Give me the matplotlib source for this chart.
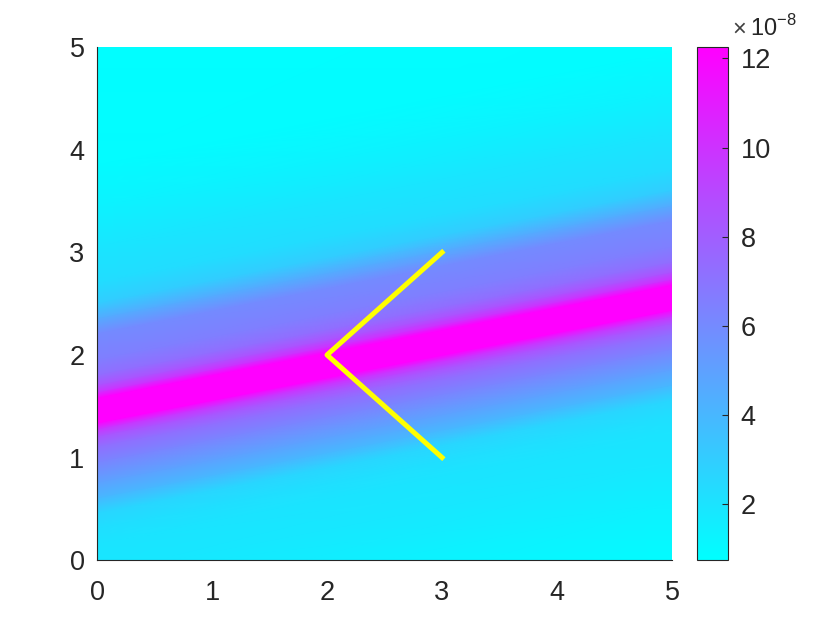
import numpy as np
import matplotlib
matplotlib.use("Agg")
import matplotlib.pyplot as plt

plt.rcParams['font.family'] = ['Liberation Sans', 'DejaVu Sans']
plt.rcParams['mathtext.fontset'] = 'custom'
plt.rcParams['mathtext.rm'] = 'Liberation Sans'

# Band centre line: y = band_y0 + band_slope * x
band_y0 = 1.46
band_slope = 0.22

# Field value (x1e-8) against vertical offset from the band centre
offsets = [-3.8, -2.6, -2.0, -1.6, -1.3, -1.15, -1.0, -0.85, -0.7, -0.5, -0.35, -0.25, -0.18, -0.12, 0.0,
           0.12, 0.18, 0.25, 0.35, 0.5, 0.75, 0.9, 1.05, 1.25, 1.6, 2.0, 2.4, 3.8]
levels = [0.75, 0.85, 1.4, 1.8, 2.0, 2.2, 2.6, 4.0, 5.0, 6.3, 7.3, 8.5, 10.0, 12.3, 14.0,
          12.3, 10.0, 8.5, 7.3, 6.5, 6.0, 4.5, 3.0, 2.3, 1.9, 1.3, 0.9, 0.75]

# Yellow path
path_x = [3, 2, 3]
path_y = [3, 2, 1]

cbar_ticks = [2, 4, 6, 8, 10, 12]
vmin, vmax = 0.75, 12.25

fig = plt.figure(figsize=(8.4, 6.3), dpi=100)
ax = fig.add_axes([0.1155, 0.111, 0.6845, 0.814])
cax = fig.add_axes([0.830, 0.111, 0.037, 0.814])

# mesh of strips parallel to the band, coloured by gouraud shading
xs = np.array([0.0, 5.0])
X, D = np.meshgrid(xs, np.array(offsets))
Y = band_y0 + band_slope * X + D
C = np.repeat(np.array(levels)[:, None], len(xs), axis=1)
mesh = ax.pcolormesh(X, Y, C, shading='gouraud', cmap='cool', vmin=vmin, vmax=vmax,
                     rasterized=True)

ax.plot(path_x, path_y, color='yellow', linewidth=3.6, solid_joinstyle='round')

ax.set_xlim(0, 5)
ax.set_ylim(0, 5)
ax.set_xticks(range(6))
ax.set_yticks(range(6))
ax.tick_params(length=0, labelsize=19.5, colors='#262626')
ax.tick_params(axis='x', pad=14)
ax.tick_params(axis='y', pad=9)
for s in ax.spines.values():
    s.set_color('#262626')
ax.spines['top'].set_visible(False)
ax.spines['right'].set_visible(False)

cb = fig.colorbar(mesh, cax=cax, ticks=cbar_ticks)
cb.outline.set_edgecolor('#262626')
cb.ax.tick_params(direction='in', length=4, labelsize=19.5, colors='#262626', pad=9)
cax.text(1.13, 1.023, '×', transform=cax.transAxes, fontsize=17,
         color='#404040', ha='left', va='baseline')
cax.text(1.71, 1.023, r'10$^{\mathregular{-8}}$', transform=cax.transAxes, fontsize=17,
         color='#262626', ha='left', va='baseline')

fig.savefig('out.png', dpi=100)
